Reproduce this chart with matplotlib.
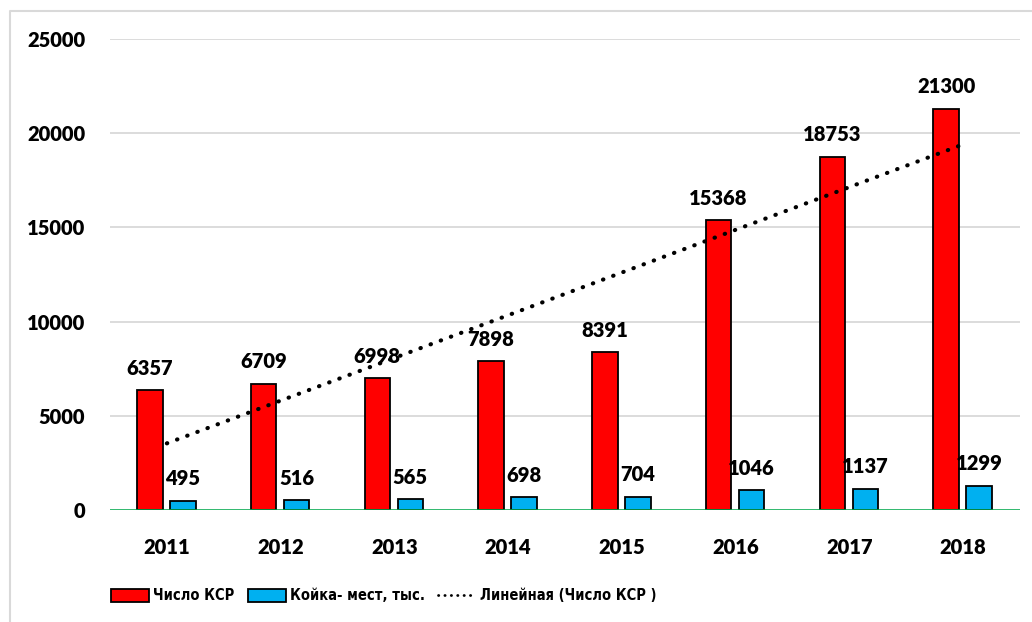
import matplotlib.pyplot as plt
import numpy as np
from matplotlib.lines import Line2D

plt.rcParams['font.family'] = ['Lato', 'DejaVu Sans']

years = ['2011', '2012', '2013', '2014', '2015', '2016', '2017', '2018']
ksr = [6357, 6709, 6998, 7898, 8391, 15368, 18753, 21300]
beds = [495, 516, 565, 698, 704, 1046, 1137, 1299]

red = '#FF0000'
blue = '#00B0F0'

fig = plt.figure(figsize=(10.32, 6.22), dpi=100)
ax = fig.add_axes([110 / 1032, 1 - 510 / 622, 910 / 1032, 471 / 622])

# outer chart frame (only left and top edges are inside the picture)
fx = 10 / 1032
fy = 1 - 11 / 622
fig.add_artist(Line2D([fx, fx, 1.0], [0.0, fy, fy], transform=fig.transFigure,
                      color='#D9D9D9', linewidth=1.5))

x = np.arange(len(years))
w = 0.225
b1 = ax.bar(x - 0.15, ksr, w, color=red, edgecolor='black', linewidth=1.3,
            label='Число КСР', zorder=3)
b2 = ax.bar(x + 0.14, beds, w, color=blue, edgecolor='black', linewidth=1.3,
            label='Койка- мест, тыс.', zorder=3)

# linear trend of Число КСР
k, c = np.polyfit(x, ksr, 1)
ax.plot(x, k * x + c, color='black', linestyle=(0, (0.1, 2.5)),
        linewidth=3.0, dash_capstyle='round', zorder=4)

for bars, vals in ((b1, ksr), (b2, beds)):
    for r, v in zip(bars, vals):
        ax.annotate(str(v), (r.get_x() + r.get_width() / 2, v),
                    xytext=(0, 11), textcoords='offset points',
                    ha='center', va='baseline', fontsize=14.5,
                    fontweight='heavy', zorder=5)

ax.set_xlim(-0.5, len(years) - 0.5)
ax.set_ylim(0, 25000)
ax.set_yticks(range(0, 25001, 5000))
ax.set_xticks(x)
ax.set_xticklabels(years)
ax.tick_params(length=0, labelsize=14.5)
ax.tick_params(axis='y', pad=18)
ax.tick_params(axis='x', pad=20)
for lab in ax.get_xticklabels() + ax.get_yticklabels():
    lab.set_fontweight('heavy')

ax.grid(axis='y', color='#D9D9D9', linewidth=1.3, zorder=0)
ax.set_axisbelow(True)
for s in ax.spines.values():
    s.set_visible(False)
ax.axhline(0, color='#00B050', linewidth=1.8, zorder=4)

handles = [b1, b2,
           Line2D([], [], color='black', linestyle=(0, (0.1, 2.2)),
                  linewidth=2.0, dash_capstyle='round')]
labels = ['Число КСР', 'Койка- мест, тыс.', 'Линейная (Число КСР )']
fig.legend(handles, labels, loc='center left',
           bbox_to_anchor=(98 / 1032, 1 - 596 / 622), ncol=3, frameon=False,
           prop={'family': 'DejaVu Sans', 'stretch': 'condensed',
                 'size': 10.5, 'weight': 'bold'},
           handlelength=2.6, handleheight=0.9, handletextpad=0.3,
           columnspacing=0.9)

fig.savefig('out.png', dpi=100)
